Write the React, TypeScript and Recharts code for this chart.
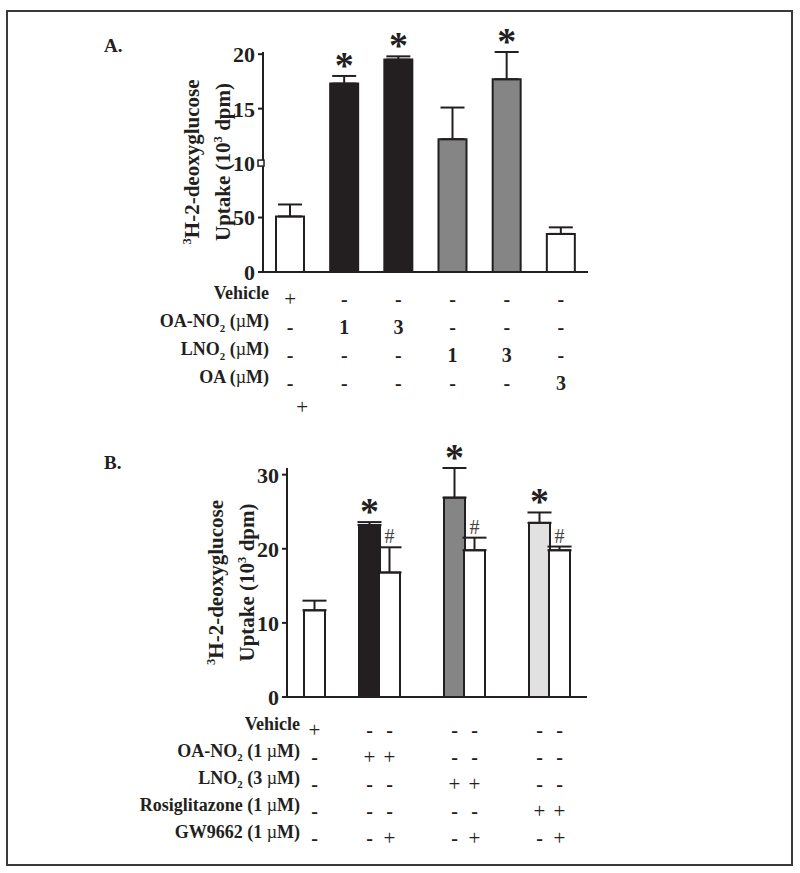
import React from 'react';
import { ComposedChart, Bar, XAxis, YAxis, ErrorBar, Scatter, Cell } from 'recharts';

const FONT = '"Liberation Serif", "Times New Roman", serif';
const INK = '#231f20';

// ---- Panel A: 3H-2-deoxyglucose uptake (10^3 dpm)
const treatmentsA = ['Vehicle', 'OA-NO2 1', 'OA-NO2 3', 'LNO2 1', 'LNO2 3', 'OA 3'];
const uptakeA = [5.1, 17.3, 19.5, 12.2, 17.7, 3.5];
const semA = [1.1, 0.7, 0.3, 2.9, 2.5, 0.6];
const signifA = ['', '*', '*', '', '*', ''];
const yTicksA = [0, 5, 10, 15, 20];
const yTickLabelsA = ['0', '50', '10', '15', '20'];
const rowLabelsA = ['Vehicle', 'OA-NO₂ (µM)', 'LNO₂ (µM)', 'OA (µM)', ''];
const rowMarksA = [
  ['+', '-', '-', '-', '-', '-'],
  ['-', '1', '3', '-', '-', '-'],
  ['-', '-', '-', '1', '3', '-'],
  ['-', '-', '-', '-', '-', '3'],
  ['+', '', '', '', '', ''],
];

// ---- Panel B
const treatmentsB = ['Vehicle', 'OA-NO2', 'OA-NO2+GW9662', 'LNO2', 'LNO2+GW9662', 'Rosiglitazone', 'Rosiglitazone+GW9662'];
const uptakeB = [11.7, 23.2, 16.8, 26.9, 19.8, 23.5, 19.8];
const semB = [1.3, 0.4, 3.4, 4.0, 1.7, 1.4, 0.5];
const signifB = ['', '*', '#', '*', '#', '*', '#'];
const yTicksB = [0, 10, 20, 30];
const rowLabelsB = ['Vehicle', 'OA-NO₂ (1 µM)', 'LNO₂ (3 µM)', 'Rosiglitazone (1 µM)', 'GW9662 (1 µM)'];
const rowMarksB = [
  ['+', '-', '-', '-', '-', '-', '-'],
  ['-', '+', '+', '-', '-', '-', '-'],
  ['-', '-', '-', '+', '+', '-', '-'],
  ['-', '-', '-', '-', '-', '+', '+'],
  ['-', '-', '+', '-', '+', '-', '+'],
];

// styles / layout
const fillsA = ['#ffffff', INK, INK, '#858585', '#858585', '#ffffff'];
const fillsB = ['#ffffff', INK, '#ffffff', '#858585', '#ffffff', '#e1e1e1', '#ffffff'];
const BANDS_B = 60; // narrow bands so the groups can be spaced like the original
const slotsB = [5, 16, 20, 33, 37, 50, 54];
const axisTickBandsB = [11, 21, 35];

const tableA = treatmentsA.map((name, i) => ({
  name,
  idx: i,
  uptake: uptakeA[i],
  err: [0, semA[i]],
  mark: signifA[i],
  markY: signifA[i] ? uptakeA[i] + semA[i] : null,
}));

const tableB = Array.from({ length: BANDS_B }, (_, b) => {
  const i = slotsB.indexOf(b);
  if (i < 0) return { name: `b${b}`, idx: -1, uptake: null, err: null, mark: '', markY: null };
  return {
    name: `b${b}`,
    idx: i,
    label: treatmentsB[i],
    uptake: uptakeB[i],
    err: [0, semB[i]],
    mark: signifB[i],
    markY: signifB[i] ? uptakeB[i] + semB[i] : null,
  };
});

function Rich({ text, fs }: { text: string; fs: number }) {
  const segs: { k: string; t: string }[] = [];
  for (const ch of Array.from(text)) {
    const k = ch === '₂' ? 'sub' : ch === '³' ? 'sup' : ch === 'µ' ? 'mu' : 'n';
    const c = k === 'sub' ? '2' : k === 'sup' ? '3' : ch;
    const last = segs[segs.length - 1];
    if (last && last.k === k) last.t += c;
    else segs.push({ k, t: c });
  }
  let prev = 0;
  return (
    <>
      {segs.map((s, i) => {
        const shift = s.k === 'sub' ? fs * 0.25 : s.k === 'sup' ? -fs * 0.4 : 0;
        const dy = shift - prev;
        prev = shift;
        return (
          <tspan
            key={i}
            dy={dy}
            fontSize={s.k === 'sub' || s.k === 'sup' ? fs * 0.6 : fs}
            fontWeight={s.k === 'mu' ? 400 : 700}
          >
            {s.t}
          </tspan>
        );
      })}
    </>
  );
}

function YTick(props: any) {
  const { x, y, payload, labels, values, square } = props;
  const i = values.indexOf(payload.value);
  return (
    <g>
      <text x={x} y={y} dy="0.36em" textAnchor="end" fontFamily={FONT} fontWeight={700} fontSize={22} fill={INK}>
        {labels[i]}
      </text>
      {square && payload.value === square ? (
        <rect x={x + 3} y={y - 3} width={6} height={6} fill="#fff" stroke={INK} strokeWidth={1.5} />
      ) : null}
    </g>
  );
}

function YTitle(props: any) {
  const { viewBox, lines } = props;
  if (!viewBox) return null;
  const axisX = viewBox.x + viewBox.width;
  const cy = viewBox.y + viewBox.height / 2;
  const offs = [64, 33];
  return (
    <g>
      {lines.map((ln: string, i: number) => (
        <text
          key={i}
          transform={`translate(${axisX - offs[i]},${cy}) rotate(-90)`}
          textAnchor="middle"
          fontFamily={FONT}
          fill={INK}
        >
          <Rich text={ln} fs={21} />
        </text>
      ))}
    </g>
  );
}

function RowTitle(props: any) {
  const { viewBox, text, overhang, dy = 0 } = props;
  if (!viewBox || !text) return null;
  return (
    <text
      x={viewBox.x + overhang}
      y={viewBox.y + viewBox.height / 2 + dy}
      dy="0.35em"
      textAnchor="end"
      fontFamily={FONT}
      fill={INK}
    >
      <Rich text={text} fs={18} />
    </text>
  );
}

function MarkTick(props: any) {
  const { x, y, index, marks, table, h, dx = 0, dy = 0 } = props;
  const i = table[index] ? table[index].idx : -1;
  const m = i >= 0 ? marks[i] : '';
  if (!m) return <g />;
  return (
    <text
      x={x + dx}
      y={y + h / 2 + dy}
      dy="0.35em"
      textAnchor="middle"
      fontFamily={FONT}
      fontSize={m === '+' ? 21 : 20}
      fontWeight={m === '+' ? 400 : 700}
      fill={INK}
    >
      {m}
    </text>
  );
}

function MarkShape(props: any) {
  const { cx, cy, payload } = props;
  if (!payload || !payload.mark || cy == null || Number.isNaN(cy)) return <g />;
  if (payload.mark === '*') {
    return (
      <text x={cx} y={cy + 2} textAnchor="middle" fontFamily={FONT} fontWeight={700} fontSize={38} fill={INK}>
        *
      </text>
    );
  }
  return (
    <text x={cx} y={cy - 4} textAnchor="middle" fontFamily={FONT} fontSize={20} fill="#444">
      {payload.mark}
    </text>
  );
}

function WideBar(props: any) {
  const { x, y, width, height, fill, payload } = props;
  if (!payload || payload.uptake == null) return <g />;
  const w = 21;
  return <rect x={x + width / 2 - w / 2} y={y} width={w} height={height} fill={fill} stroke={INK} strokeWidth={2} />;
}

function PanelA() {
  const rowH = 28;
  return (
    <ComposedChart width={800} height={425} data={tableA} margin={{ top: 52, right: 212, left: 203, bottom: 0 }}>
      <YAxis
        yAxisId="y"
        domain={[0, 20]}
        ticks={yTicksA}
        width={60}
        axisLine={{ stroke: INK, strokeWidth: 2 }}
        tickLine={{ stroke: INK, strokeWidth: 2 }}
        tickSize={5}
        tickMargin={3}
        tick={(p: any) => <YTick {...p} labels={yTickLabelsA} values={yTicksA} square={10} />}
        label={<YTitle lines={['³H-2-deoxyglucose', 'Uptake (10³ dpm)']} />}
      />
      <XAxis xAxisId="main" dataKey="name" height={13} tick={false} tickLine={false} axisLine={{ stroke: INK, strokeWidth: 2 }} />
      {rowLabelsA.map((lab, r) => (
        <XAxis
          key={r}
          xAxisId={`r${r}`}
          dataKey="name"
          height={rowH}
          axisLine={false}
          tickLine={false}
          tickSize={0}
          tickMargin={0}
          interval={0}
          tick={(p: any) => (
            <MarkTick {...p} marks={rowMarksA[r]} table={tableA} h={rowH} dx={r === 4 ? 12 : 0} dy={r === 4 ? -4 : 0} />
          )}
          label={<RowTitle text={lab} overhang={6} />}
        />
      ))}
      <Bar xAxisId="main" yAxisId="y" dataKey="uptake" barSize={28} stroke={INK} strokeWidth={2} isAnimationActive={false}>
        {tableA.map((d, i) => (
          <Cell key={i} fill={fillsA[d.idx]} />
        ))}
        <ErrorBar dataKey="err" width={12} stroke={INK} strokeWidth={2} direction="y" />
      </Bar>
      <Scatter xAxisId="main" yAxisId="y" dataKey="markY" shape={(p: any) => <MarkShape {...p} />} isAnimationActive={false} />
    </ComposedChart>
  );
}

function PanelB() {
  const rowH = 27;
  return (
    <ComposedChart
      width={800}
      height={421}
      data={tableB}
      barCategoryGap={0}
      margin={{ top: 38, right: 213, left: 227, bottom: 0 }}
    >
      <YAxis
        yAxisId="y"
        domain={[0, 30]}
        ticks={yTicksB}
        width={60}
        axisLine={{ stroke: INK, strokeWidth: 2 }}
        tickLine={{ stroke: INK, strokeWidth: 2 }}
        tickSize={5}
        tickMargin={3}
        tick={(p: any) => <YTick {...p} labels={yTicksB.map(String)} values={yTicksB} />}
        label={<YTitle lines={['³H-2-deoxyglucose', 'Uptake (10³ dpm)']} />}
      />
      <XAxis
        xAxisId="main"
        dataKey="name"
        height={19}
        ticks={axisTickBandsB.map((b) => `b${b}`)}
        tick={false}
        tickSize={5}
        tickLine={{ stroke: INK, strokeWidth: 1.5 }}
        axisLine={{ stroke: INK, strokeWidth: 2 }}
      />
      {rowLabelsB.map((lab, r) => (
        <XAxis
          key={r}
          xAxisId={`r${r}`}
          dataKey="name"
          height={rowH}
          axisLine={false}
          tickLine={false}
          tickSize={0}
          tickMargin={0}
          interval={0}
          tick={(p: any) => <MarkTick {...p} marks={rowMarksB[r]} table={tableB} h={rowH} />}
          label={<RowTitle text={lab} overhang={13} />}
        />
      ))}
      <Bar xAxisId="main" yAxisId="y" dataKey="uptake" shape={(p: any) => <WideBar {...p} />} isAnimationActive={false}>
        {tableB.map((d, i) => (
          <Cell key={i} fill={d.idx >= 0 ? fillsB[d.idx] : '#fff'} />
        ))}
        <ErrorBar dataKey="err" width={12} stroke={INK} strokeWidth={2} direction="y" />
      </Bar>
      <Scatter xAxisId="main" yAxisId="y" dataKey="markY" shape={(p: any) => <MarkShape {...p} />} isAnimationActive={false} />
    </ComposedChart>
  );
}

export default function App() {
  const letter: React.CSSProperties = {
    position: 'absolute',
    fontFamily: FONT,
    fontWeight: 700,
    fontSize: 19,
    color: INK,
    lineHeight: '20px',
  };
  return (
    <div style={{ position: 'absolute', left: 0, top: 0, width: 800, height: 873, background: '#fff' }}>
      <div
        style={{
          position: 'absolute',
          left: 6,
          top: 10,
          width: 783,
          height: 852,
          border: '2px solid #3a3a3a',
        }}
      />
      <div style={{ ...letter, left: 104, top: 36 }}>A.</div>
      <div style={{ ...letter, left: 104, top: 453 }}>B.</div>
      <div style={{ position: 'absolute', left: 0, top: 0 }}>
        <PanelA />
      </div>
      <div style={{ position: 'absolute', left: 0, top: 430 }}>
        <PanelB />
      </div>
    </div>
  );
}
